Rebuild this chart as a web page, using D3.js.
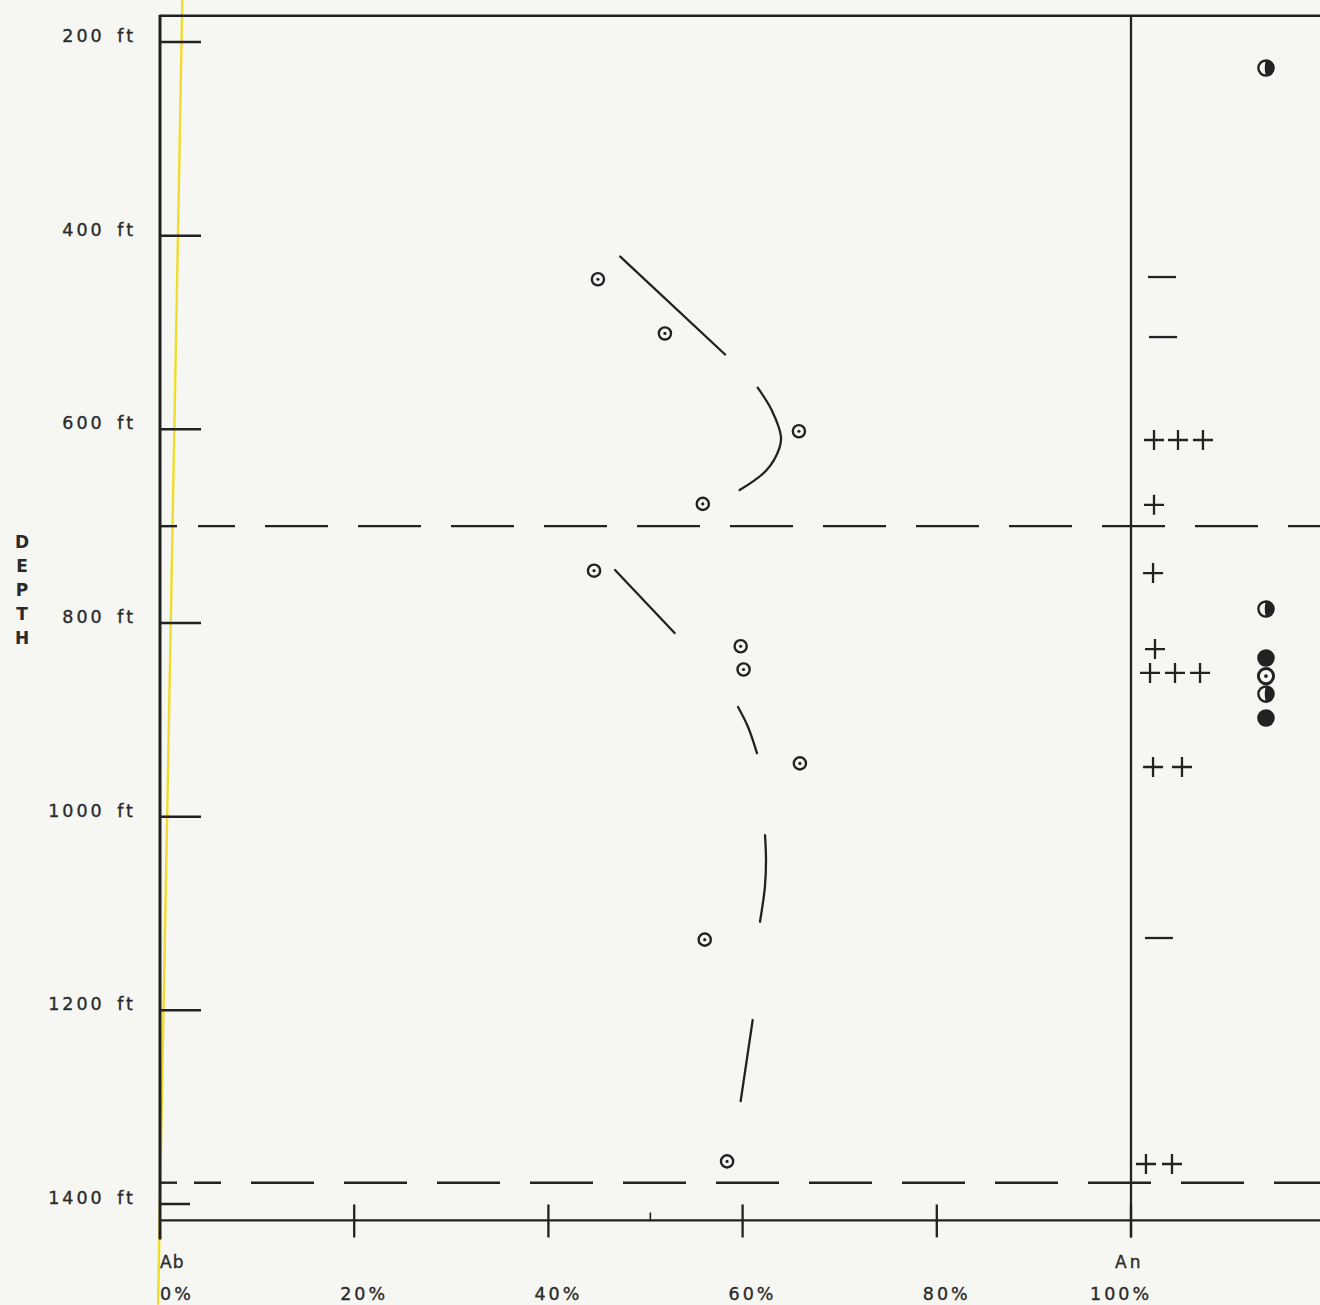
<!DOCTYPE html>
<html><head><meta charset="utf-8">
<script src="https://cdn.jsdelivr.net/npm/d3@7"></script>
<style>html,body{margin:0;padding:0;background:#f6f6f3;} svg{display:block}</style>
</head><body><svg id="c" width="1320" height="1305"></svg>
<script>
// ---- data ----
const depthTicks = [200, 400, 600, 800, 1000, 1200, 1400];
const depthTickLabels = ["200 ft", "400 ft", "600 ft", "800 ft", "1000 ft", "1200 ft", "1400 ft"];
const pctTicks = [0, 20, 40, 60, 80, 100];
const pctTickLabels = ["0%", "20%", "40%", "60%", "80%", "100%"];
const minorPctTicks = [50.5];
const boundaryDepths = [700, 1378];
const sampleDepth = [445, 501, 602, 677, 746, 824, 848, 945, 1127, 1356];
const samplePct   = [45.1, 52.0, 65.8, 55.9, 44.7, 59.8, 60.1, 65.9, 56.1, 58.4];
const trendSegments = [
  [[47.4, 421.6], [58.2, 522.7]],
  [[61.55, 557.0], [63.0, 580.2], [63.95, 607.6], [63.78, 619.6], [62.48, 642.0], [59.7, 662.7]],
  [[46.86, 745.3], [53.0, 810.4]],
  [[59.53, 886.8], [60.56, 907.4], [61.48, 934.3]],
  [[62.31, 1019], [62.41, 1044.8], [62.3, 1072.3], [61.79, 1108.5]],
  [[61.04, 1210], [59.8, 1293.7]]
];
const plusDepth = [611, 611, 611, 678, 748.4, 826.9, 851.6, 851.6, 851.6, 948.7, 948.7, 1358.7, 1358.7];
const plusPct   = [102.37, 104.84, 107.41, 102.37, 102.27, 102.47, 101.96, 104.53, 107.11, 102.27, 105.25, 101.54, 104.22];
const minusDepth = [442.7, 504.7, 1125.3];
const minusPct   = [103.19, 103.3, 102.88];
const bigDepth = [226.9, 785.6, 836.2, 854.8, 873.4, 898.1];
const bigPct   = [113.9, 113.9, 113.9, 113.9, 113.9, 113.9];
const bigKind  = ["half", "half", "filled", "dot", "half", "filled"];
const yellowLine = [[2.3, 156], [-0.2, 1504]];
const frame = {topDepth: 173, bottomDepth: 1417, rightPct: 121};

// ---- scales ----
const x = d3.scaleLinear().domain([0, 100]).range([160, 1131]);
const y = d3.scaleLinear().domain([200, 1400]).range([42, 1204]);
const ink = "#222";
const txt = "#2a2a2a";
const bgc = "#f6f6f3";
const font = "'DejaVu Sans', sans-serif";

const svg = d3.select("#c");
svg.append("rect").attr("width", 1320).attr("height", 1305).attr("fill", bgc);

// yellow line
svg.append("path")
  .attr("d", d3.line().x(d => x(d[0])).y(d => y(d[1]))(yellowLine))
  .attr("stroke", "#f0dc2c").attr("stroke-width", 2.4).attr("fill", "none");

// frame
const g = svg.append("g").attr("stroke", ink).attr("fill", "none");
g.append("line").attr("x1", x(0)).attr("x2", x(frame.rightPct))
  .attr("y1", y(frame.topDepth)).attr("y2", y(frame.topDepth)).attr("stroke-width", 2.5);
g.append("line").attr("x1", x(0)).attr("x2", x(0))
  .attr("y1", y(frame.topDepth) - 1).attr("y2", y(frame.bottomDepth) + 19).attr("stroke-width", 3);
g.append("line").attr("x1", x(0)).attr("x2", x(frame.rightPct))
  .attr("y1", y(frame.bottomDepth)).attr("y2", y(frame.bottomDepth)).attr("stroke-width", 2.2);
g.append("line").attr("x1", x(100)).attr("x2", x(100))
  .attr("y1", y(frame.topDepth)).attr("y2", y(frame.bottomDepth) + 17).attr("stroke-width", 2.3);

// depth ticks
g.selectAll(".dt").data(depthTicks).join("line")
  .attr("x1", x(0)).attr("x2", d => x(0) + (d === 1400 ? 30 : 41))
  .attr("y1", d => y(d)).attr("y2", d => y(d)).attr("stroke-width", 2.5);

// pct ticks crossing bottom axis
g.selectAll(".pt").data(pctTicks.filter(d => d > 0)).join("line")
  .attr("x1", d => x(d)).attr("x2", d => x(d))
  .attr("y1", y(frame.bottomDepth) - 16).attr("y2", y(frame.bottomDepth) + 17).attr("stroke-width", 2.3);
g.selectAll(".mt").data(minorPctTicks).join("line")
  .attr("x1", d => x(d)).attr("x2", d => x(d))
  .attr("y1", y(frame.bottomDepth) - 8).attr("y2", y(frame.bottomDepth)).attr("stroke-width", 1.6);

// boundary dashed lines
const dashStart = [198, 194], dashOffset = [26, 36];
g.selectAll(".bd").data(boundaryDepths).join("line")
  .attr("x1", (d, i) => dashStart[i]).attr("x2", x(frame.rightPct))
  .attr("y1", d => y(d)).attr("y2", d => y(d))
  .attr("stroke-width", 2.4).attr("stroke-dasharray", "63 30")
  .attr("stroke-dashoffset", (d, i) => dashOffset[i]);
// short stubs next to the left axis
g.selectAll(".bs").data(boundaryDepths).join("line")
  .attr("x1", x(0)).attr("x2", x(0) + 17)
  .attr("y1", d => y(d)).attr("y2", d => y(d)).attr("stroke-width", 2.4);

// trend segments
const line = d3.line().x(d => x(d[0])).y(d => y(d[1])).curve(d3.curveCatmullRom);
svg.selectAll(".seg").data(trendSegments).join("path")
  .attr("d", d => line(d)).attr("fill", "none").attr("stroke", ink)
  .attr("stroke-width", 2.3).attr("stroke-linecap", "round");

// sample circles with dot
const samples = sampleDepth.map((d, i) => ({depth: d, pct: samplePct[i]}));
const sg = svg.selectAll(".s").data(samples).join("g")
  .attr("transform", d => `translate(${x(d.pct)},${y(d.depth)})`);
sg.append("circle").attr("r", 6.1).attr("fill", bgc).attr("stroke", ink).attr("stroke-width", 2.4);
sg.append("circle").attr("r", 1.6).attr("fill", ink);

// plus marks
const plus = plusDepth.map((d, i) => ({depth: d, pct: plusPct[i]}));
svg.selectAll(".p").data(plus).join("path")
  .attr("transform", d => `translate(${x(d.pct)},${y(d.depth)})`)
  .attr("d", "M-10,0H10M0,-10V10").attr("stroke", ink).attr("stroke-width", 2.3);

// minus marks
const minus = minusDepth.map((d, i) => ({depth: d, pct: minusPct[i]}));
svg.selectAll(".m").data(minus).join("path")
  .attr("transform", d => `translate(${x(d.pct)},${y(d.depth)})`)
  .attr("d", "M-14,0H14").attr("stroke", ink).attr("stroke-width", 2.3);

// big symbols
const big = bigDepth.map((d, i) => ({depth: d, pct: bigPct[i], kind: bigKind[i]}));
const bg = svg.selectAll(".b").data(big).join("g")
  .attr("transform", d => `translate(${x(d.pct)},${y(d.depth)})`);
const R = 8.8;
bg.append("circle").attr("r", R - 1.2)
  .attr("fill", d => d.kind === "filled" ? ink : bgc)
  .attr("stroke", ink).attr("stroke-width", d => d.kind === "dot" ? 3 : 2.4);
bg.filter(d => d.kind === "half").append("path")
  .attr("d", `M0,${-R + 0.6} A${R - 0.6},${R - 0.6} 0 0 1 0,${R - 0.6} Q-2.5,0 0,${-R + 0.6}Z`)
  .attr("fill", ink);
bg.filter(d => d.kind === "dot").append("circle").attr("r", 1.9).attr("fill", ink);

// text helper
function styleText(sel, size, ls) {
  return sel.attr("font-family", font).attr("font-size", size).attr("fill", txt)
    .attr("stroke", txt).attr("stroke-width", 0.35).attr("letter-spacing", ls);
}

// depth labels
styleText(svg.selectAll(".dl").data(depthTicks).join("text")
  .attr("x", x(0) - 24).attr("y", d => y(d) - 5)
  .attr("text-anchor", "end").attr("dominant-baseline", "middle")
  .attr("word-spacing", 4)
  .text((d, i) => depthTickLabels[i]), 17.5, 3);

// pct labels
styleText(svg.selectAll(".pl").data(pctTicks).join("text")
  .attr("x", d => d === 0 ? x(d) : (d === 100 ? x(d) - 41 : x(d) - 14))
  .attr("y", y(frame.bottomDepth) + 80)
  .text((d, i) => pctTickLabels[i]), 17.5, 3);

// end-member labels
styleText(svg.append("text").attr("x", x(0)).attr("y", y(frame.bottomDepth) + 48).text("Ab"), 17, 1);
styleText(svg.append("text").attr("x", x(100) - 16).attr("y", y(frame.bottomDepth) + 48).text("An"), 17, 3);

// DEPTH vertical title
const title = "DEPTH".split("");
svg.selectAll(".tt").data(title).join("text")
  .attr("x", 22).attr("y", (d, i) => 548 + i * 24)
  .attr("text-anchor", "middle")
  .attr("font-family", font).attr("font-weight", "bold").attr("font-size", 17).attr("fill", txt)
  .text(d => d);
</script></body></html>
